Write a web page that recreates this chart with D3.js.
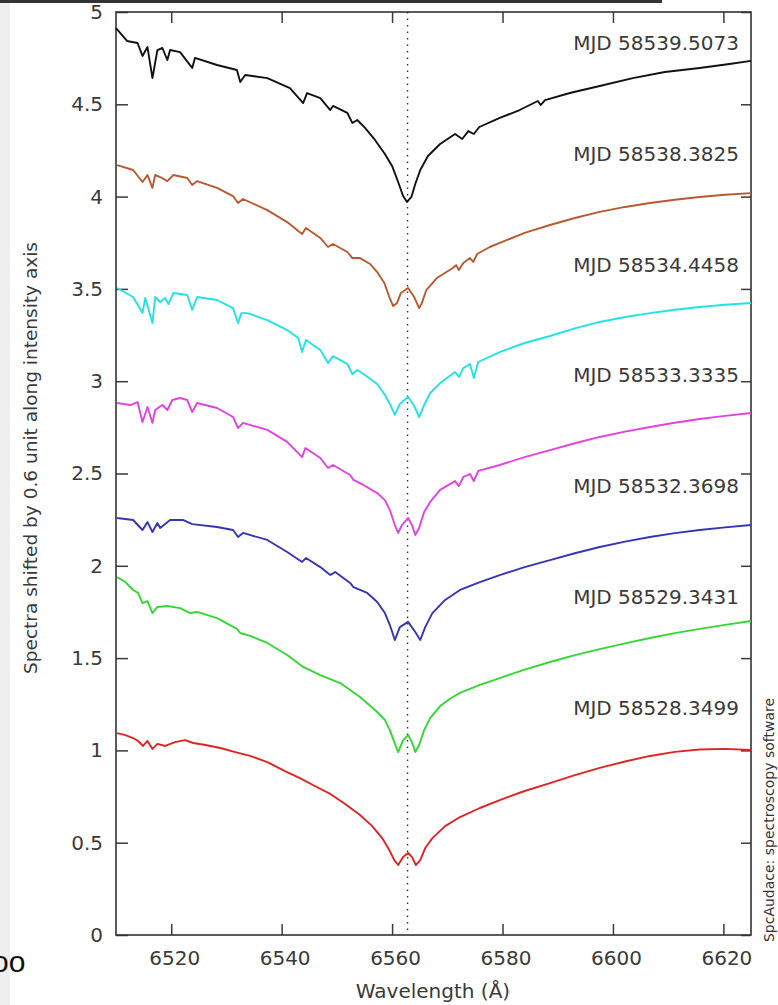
<!DOCTYPE html>
<html>
<head>
<meta charset="utf-8">
<script src="https://cdn.jsdelivr.net/npm/d3@7"></script>
<style>
  html, body { margin: 0; padding: 0; background: #ffffff; }
  svg { display: block; }
  text { font-family: "DejaVu Sans", Verdana, sans-serif; }
</style>
</head>
<body>
<div id="chart"></div>
<script>
// Normalised H-alpha spectra, one array of [wavelength (Å), relative flux] per night.
const spectrum58528 = [[6510.2,1.094],[6511.7,1.083],[6513.1,1.067],[6514.0,1.051],[6514.9,1.024],[6515.7,1.051],[6516.6,1.008],[6517.5,1.035],[6518.9,1.024],[6520.7,1.045],[6522.5,1.056],[6524.0,1.040],[6526.2,1.029],[6528.9,1.013],[6531.6,0.991],[6534.3,0.970],[6537.4,0.937],[6540.6,0.888],[6543.3,0.850],[6546.0,0.807],[6548.8,0.764],[6551.5,0.710],[6554.2,0.650],[6556.4,0.590],[6558.2,0.525],[6559.5,0.460],[6560.4,0.406],[6561.1,0.379],[6562.0,0.423],[6562.9,0.444],[6563.6,0.423],[6564.3,0.379],[6565.1,0.406],[6566.0,0.471],[6567.3,0.525],[6569.6,0.590],[6572.3,0.639],[6575.9,0.688],[6579.5,0.731],[6584.0,0.780],[6588.6,0.823],[6593.1,0.866],[6597.6,0.905],[6602.2,0.940],[6606.7,0.970],[6611.2,0.992],[6615.7,1.005],[6620.3,1.008],[6625.0,1.002]];
const spectrum58529 = [[6510.2,1.339],[6511.7,1.312],[6513.1,1.269],[6514.0,1.253],[6514.8,1.198],[6515.7,1.209],[6516.6,1.144],[6517.5,1.177],[6519.3,1.182],[6521.6,1.171],[6523.4,1.144],[6524.7,1.150],[6528.3,1.117],[6531.9,1.058],[6532.5,1.036],[6534.3,1.020],[6537.4,0.982],[6541.0,0.917],[6543.9,0.852],[6547.0,0.808],[6550.6,0.765],[6554.2,0.689],[6557.3,0.608],[6558.7,0.565],[6559.6,0.510],[6560.4,0.445],[6561.1,0.391],[6562.0,0.456],[6562.9,0.483],[6563.6,0.445],[6564.2,0.391],[6564.9,0.429],[6565.8,0.510],[6566.9,0.575],[6568.7,0.640],[6570.5,0.680],[6572.3,0.712],[6575.9,0.755],[6579.5,0.792],[6584.0,0.838],[6588.6,0.879],[6593.1,0.916],[6597.6,0.949],[6602.2,0.980],[6606.7,1.009],[6611.2,1.035],[6615.7,1.058],[6620.3,1.080],[6625.0,1.101]];
const spectrum58532 = [[6510.2,1.059],[6513.1,1.048],[6514.8,0.994],[6515.7,1.037],[6516.6,0.983],[6517.5,1.032],[6518.0,1.005],[6519.8,1.048],[6522.2,1.048],[6523.8,1.026],[6528.3,1.010],[6531.2,0.994],[6532.1,0.956],[6533.0,0.978],[6537.4,0.940],[6541.0,0.875],[6543.7,0.821],[6544.4,0.842],[6547.0,0.793],[6548.8,0.750],[6549.7,0.766],[6552.4,0.707],[6553.0,0.685],[6555.5,0.653],[6557.3,0.604],[6558.7,0.544],[6559.6,0.479],[6560.5,0.398],[6561.4,0.468],[6562.9,0.496],[6564.2,0.441],[6565.1,0.398],[6566.0,0.468],[6567.3,0.544],[6569.6,0.615],[6572.3,0.669],[6575.9,0.712],[6579.5,0.750],[6584.0,0.793],[6588.6,0.831],[6593.1,0.868],[6597.6,0.902],[6602.2,0.931],[6606.7,0.956],[6611.2,0.977],[6615.7,0.994],[6620.3,1.008],[6625.0,1.021]];
const spectrum58533 = [[6510.2,1.082],[6512.6,1.071],[6513.9,1.087],[6514.8,0.979],[6515.7,1.060],[6516.6,0.974],[6517.1,1.044],[6518.4,1.071],[6519.3,1.044],[6520.2,1.098],[6521.6,1.109],[6522.9,1.098],[6523.8,1.033],[6524.7,1.082],[6528.3,1.055],[6531.2,1.006],[6532.1,0.946],[6533.0,0.974],[6537.4,0.936],[6541.0,0.871],[6543.7,0.789],[6544.3,0.838],[6547.0,0.784],[6548.4,0.730],[6549.3,0.746],[6552.4,0.692],[6553.0,0.665],[6554.8,0.638],[6557.3,0.594],[6558.7,0.556],[6559.6,0.502],[6560.5,0.421],[6561.1,0.378],[6561.8,0.421],[6562.9,0.459],[6563.6,0.421],[6564.2,0.367],[6564.9,0.405],[6565.8,0.491],[6566.9,0.546],[6568.7,0.611],[6571.4,0.659],[6572.1,0.632],[6572.9,0.681],[6574.1,0.697],[6574.8,0.659],[6575.6,0.714],[6579.5,0.746],[6584.0,0.789],[6588.6,0.827],[6593.1,0.864],[6597.6,0.898],[6602.2,0.927],[6606.7,0.952],[6611.2,0.975],[6615.7,0.995],[6620.3,1.012],[6625.0,1.028]];
const spectrum58534 = [[6510.2,1.105],[6513.1,1.056],[6514.8,0.969],[6515.3,1.051],[6516.6,0.915],[6517.1,1.056],[6518.0,1.029],[6518.9,1.051],[6519.5,1.018],[6520.4,1.078],[6522.9,1.067],[6523.8,0.986],[6524.7,1.056],[6528.3,1.040],[6531.2,0.996],[6532.1,0.915],[6532.7,0.969],[6533.8,0.969],[6537.4,0.931],[6541.0,0.877],[6543.0,0.834],[6543.7,0.758],[6544.4,0.823],[6547.0,0.769],[6548.4,0.699],[6549.3,0.736],[6551.9,0.693],[6552.8,0.639],[6553.7,0.661],[6555.1,0.634],[6557.3,0.585],[6558.7,0.525],[6559.6,0.477],[6560.5,0.417],[6561.4,0.477],[6562.9,0.514],[6564.0,0.466],[6564.9,0.406],[6565.8,0.471],[6566.9,0.536],[6568.7,0.590],[6571.4,0.650],[6572.1,0.623],[6572.9,0.671],[6574.1,0.693],[6574.8,0.617],[6575.6,0.704],[6579.5,0.758],[6584.0,0.807],[6588.6,0.845],[6593.1,0.886],[6597.6,0.921],[6602.2,0.948],[6606.7,0.969],[6611.2,0.987],[6615.7,1.002],[6620.3,1.014],[6625.0,1.024]];
const spectrum58538 = [[6510.2,1.171],[6513.1,1.144],[6514.8,1.079],[6515.7,1.117],[6516.6,1.047],[6517.1,1.117],[6518.0,1.106],[6519.3,1.084],[6520.4,1.117],[6522.9,1.101],[6523.8,1.063],[6524.7,1.084],[6528.3,1.047],[6531.2,1.003],[6532.1,0.965],[6533.0,0.987],[6537.4,0.927],[6541.0,0.862],[6543.7,0.797],[6544.4,0.830],[6547.0,0.776],[6548.4,0.727],[6549.3,0.743],[6551.9,0.700],[6552.8,0.667],[6554.2,0.667],[6556.0,0.635],[6557.3,0.591],[6558.6,0.532],[6559.5,0.456],[6560.2,0.407],[6560.9,0.424],[6561.6,0.478],[6562.9,0.505],[6564.0,0.456],[6564.9,0.396],[6565.4,0.424],[6566.2,0.494],[6568.1,0.559],[6571.0,0.613],[6571.6,0.629],[6572.1,0.602],[6572.9,0.640],[6574.1,0.667],[6574.7,0.646],[6575.4,0.689],[6577.7,0.727],[6579.5,0.749],[6584.0,0.803],[6588.6,0.846],[6593.1,0.884],[6597.6,0.917],[6602.2,0.944],[6606.7,0.965],[6611.2,0.983],[6615.7,0.998],[6620.3,1.010],[6625.0,1.019]];
const spectrum58539 = [[6510.0,1.313],[6512.0,1.243],[6513.9,1.232],[6514.8,1.162],[6515.7,1.210],[6516.6,1.042],[6517.5,1.194],[6518.4,1.205],[6519.3,1.140],[6519.8,1.194],[6521.6,1.183],[6523.8,1.097],[6524.3,1.151],[6528.3,1.113],[6531.9,1.086],[6532.5,1.021],[6533.4,1.059],[6537.4,1.042],[6541.5,0.988],[6543.9,0.907],[6544.6,0.961],[6547.0,0.934],[6548.8,0.869],[6549.3,0.891],[6551.9,0.853],[6552.8,0.799],[6553.7,0.815],[6555.1,0.772],[6556.9,0.707],[6558.7,0.631],[6560.0,0.566],[6561.1,0.479],[6562.0,0.403],[6562.7,0.371],[6563.5,0.398],[6564.2,0.468],[6565.1,0.544],[6566.5,0.620],[6568.7,0.685],[6571.4,0.739],[6572.7,0.712],[6573.8,0.755],[6574.8,0.739],[6575.8,0.777],[6579.5,0.826],[6583.1,0.869],[6586.4,0.918],[6586.9,0.896],[6587.7,0.923],[6592.2,0.961],[6597.6,0.999],[6603.6,1.042],[6609.4,1.075],[6615.7,1.097],[6621.1,1.118],[6625.0,1.135]];

// Nights, bottom to top, with their series colours
const spectra = [spectrum58528, spectrum58529, spectrum58532, spectrum58533, spectrum58534, spectrum58538, spectrum58539];
const mjdLabels = ["MJD 58528.3499", "MJD 58529.3431", "MJD 58532.3698", "MJD 58533.3335", "MJD 58534.4458", "MJD 58538.3825", "MJD 58539.5073"];
const seriesColors = ["#e02424", "#35d635", "#3535b5", "#e043e0", "#22e3e3", "#b85a30", "#111111"];
const shiftStep = 0.6;
const labelLevel = 1.194;      // label baseline, in flux units above each shifted spectrum
const hAlphaRest = 6562.8;

const wavelengthTicks = [6520, 6540, 6560, 6580, 6600, 6620];
const intensityTicks = [0, 0.5, 1, 1.5, 2, 2.5, 3, 3.5, 4, 4.5, 5];
const intensityTickLabels = ["0", "0.5", "1", "1.5", "2", "2.5", "3", "3.5", "4", "4.5", "5"];

const W = 778, H = 1005;
const plot = { left: 116, right: 751, top: 12, bottom: 935 };

const svg = d3.select("#chart").append("svg").attr("width", W).attr("height", H);

// page furniture
svg.append("rect").attr("x", 0).attr("y", 0).attr("width", W).attr("height", H).attr("fill", "#ffffff");
svg.append("rect").attr("x", 0).attr("y", 0).attr("width", 10).attr("height", H).attr("fill", "#efefef");
svg.append("rect").attr("x", 0).attr("y", 0).attr("width", 662).attr("height", 3).attr("fill", "#333333");

const x = d3.scaleLinear().domain([6510, 6625]).range([plot.left, plot.right]);
const y = d3.scaleLinear().domain([0, 5]).range([plot.bottom, plot.top]);

const tickColor = "#3a3a3a";

function styleAxis(g) {
  g.select(".domain").remove();
  g.selectAll(".tick line").attr("stroke", tickColor).attr("stroke-width", 1.5);
  g.selectAll(".tick text").attr("fill", "#3a3a3a").style("font-size", "20px")
    .style("font-family", "'DejaVu Sans', Verdana, sans-serif");
}

svg.append("g").attr("transform", `translate(0,${plot.bottom})`)
  .call(d3.axisBottom(x).tickValues(wavelengthTicks).tickFormat(d3.format("d")).tickSize(-11).tickPadding(16))
  .call(styleAxis)
  .call(g => g.selectAll(".tick text").attr("dx", 3));

svg.append("g").attr("transform", `translate(0,${plot.top})`)
  .call(d3.axisTop(x).tickValues(wavelengthTicks).tickFormat("").tickSize(-11))
  .call(styleAxis);

svg.append("g").attr("transform", `translate(${plot.left},0)`)
  .call(d3.axisLeft(y).tickValues(intensityTicks).tickFormat((d, i) => intensityTickLabels[i]).tickSize(-12).tickPadding(13))
  .call(styleAxis);

svg.append("g").attr("transform", `translate(${plot.right},0)`)
  .call(d3.axisRight(y).tickValues(intensityTicks).tickFormat("").tickSize(-10))
  .call(styleAxis);

// frame
svg.append("rect")
  .attr("x", plot.left).attr("y", plot.top)
  .attr("width", plot.right - plot.left).attr("height", plot.bottom - plot.top)
  .attr("fill", "none").attr("stroke", "#333333").attr("stroke-width", 1.6);

// H-alpha rest wavelength marker
svg.append("line")
  .attr("x1", x(hAlphaRest)).attr("x2", x(hAlphaRest))
  .attr("y1", plot.top).attr("y2", plot.bottom)
  .attr("stroke", "#333333").attr("stroke-width", 1.4)
  .attr("stroke-dasharray", "1.5,5");

// spectra, each shifted by shiftStep
const line = d3.line().x(d => x(d[0])).y(d => y(d[1]));
spectra.forEach((spec, i) => {
  const shift = i * shiftStep;
  svg.append("path")
    .datum(spec.map(p => [p[0], p[1] + shift]))
    .attr("d", line)
    .attr("fill", "none")
    .attr("stroke", seriesColors[i])
    .attr("stroke-width", 1.9)
    .attr("stroke-linejoin", "round");
});

// night labels
svg.append("g").selectAll("text").data(mjdLabels).join("text")
  .attr("x", 739)
  .attr("y", (d, i) => y(i * shiftStep + labelLevel))
  .attr("text-anchor", "end")
  .attr("fill", "#3a3a3a")
  .style("font-size", "20px")
  .text(d => d);

// axis titles
svg.append("text")
  .attr("x", 433).attr("y", 998)
  .attr("text-anchor", "middle")
  .attr("fill", "#3a3a3a")
  .style("font-size", "20px")
  .text("Wavelength (Å)");

svg.append("text")
  .attr("transform", "translate(37,458) rotate(-90)")
  .attr("text-anchor", "middle")
  .attr("fill", "#3a3a3a")
  .style("font-size", "18.5px")
  .text("Spectra shifted by 0.6 unit along intensity axis");

svg.append("text")
  .attr("transform", "translate(774,820) rotate(-90)")
  .attr("text-anchor", "middle")
  .attr("fill", "#333333")
  .style("font-size", "14px")
  .text("SpcAudace: spectroscopy software");

// cropped caption fragment at the lower left
svg.append("text")
  .attr("x", -8).attr("y", 972)
  .attr("fill", "#111111")
  .style("font-family", "'Liberation Sans', Arial, sans-serif")
  .style("font-size", "30px")
  .text("oo");
</script>
</body>
</html>
